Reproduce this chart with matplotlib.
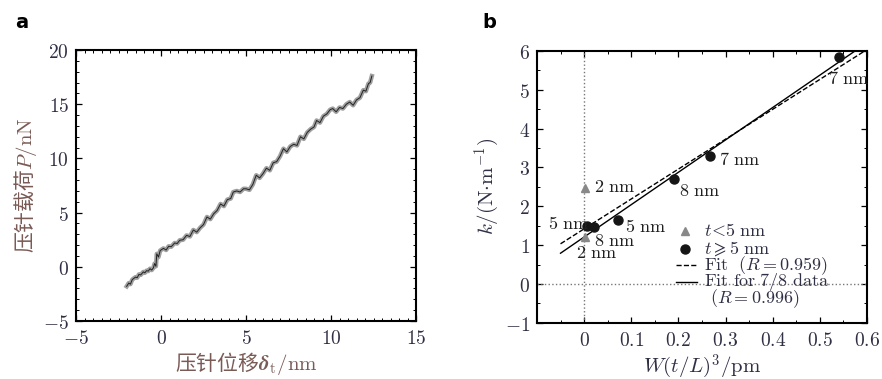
import numpy as np
import matplotlib
matplotlib.use('Agg')
import matplotlib.pyplot as plt
from matplotlib.ticker import MultipleLocator, FuncFormatter

plt.rcParams['font.family'] = ['Noto Sans CJK SC', 'DejaVu Sans']
plt.rcParams['mathtext.fontset'] = 'cm'

# ---- panel a: indentation load vs displacement ----
disp_a = [-2.02, -1.9, -1.8, -1.7, -1.63, -1.5, -1.4, -1.3, -1.2, -1.04, -0.95, -0.85,
          -0.75, -0.65, -0.55, -0.45, -0.38, -0.3, -0.25, -0.15, -0.05, 0.14, 0.3, 0.45,
          0.6, 0.8, 0.95, 1.1, 1.3, 1.5, 1.7, 1.9, 2.1, 2.3, 2.5, 2.7, 2.9, 3.1, 3.3,
          3.5, 3.7, 3.9, 4.1, 4.25, 4.45, 4.65, 4.85, 5.0, 5.2, 5.4, 5.6, 5.8, 6.0,
          6.2, 6.4, 6.6, 6.8, 7.0, 7.2, 7.4, 7.6, 7.8, 8.0, 8.2, 8.4, 8.6, 8.8, 9.0,
          9.15, 9.35, 9.55, 9.75, 9.95, 10.1, 10.3, 10.5, 10.7, 10.9, 11.1, 11.3,
          11.5, 11.7, 11.9, 12.05, 12.2, 12.3, 12.4]
load_a = [-1.8, -1.5, -1.6, -1.2, -1.1, -0.95, -1.0, -0.7, -0.75, -0.47, -0.55, -0.35,
          -0.4, -0.17, -0.3, -0.1, 0.3, 0.05, 1.2, 0.9, 1.5, 1.7, 1.55, 1.9,
          1.85, 2.2, 2.15, 2.45, 2.5, 2.9, 2.8, 3.4, 3.2, 3.6, 3.9, 4.6, 4.4, 4.9, 5.2,
          5.8, 5.6, 6.2, 6.3, 6.9, 7.0, 6.9, 7.2, 7.2, 7.1, 7.6, 8.45, 8.2, 8.6,
          9.1, 8.9, 9.6, 9.7, 10.2, 10.9, 10.6, 11.1, 11.3, 11.2, 12.0, 11.8, 12.4, 12.7, 12.9,
          13.5, 13.3, 13.9, 14.1, 14.5, 14.6, 14.3, 14.7, 14.6, 15.0, 15.2, 14.9,
          15.4, 15.6, 16.3, 16.2, 16.9, 17.0, 17.6]

# ---- panel b: spring constant vs W(t/L)^3 ----
thin_x = [0.002, 0.002]
thin_k = [2.46, 1.2]
thick_x = [0.007, 0.022, 0.072, 0.19, 0.268, 0.541]
thick_k = [1.49, 1.47, 1.64, 2.70, 3.29, 5.84]
point_labels = ['2 nm', '2 nm', '5 nm', '8 nm', '5 nm', '8 nm', '7 nm', '7 nm']
label_xy = [(0.02, 2.5), (-0.018, 0.8), (-0.076, 1.55), (0.02, 1.12),
            (0.086, 1.47), (0.202, 2.4), (0.286, 3.18), (0.518, 5.27)]
fit_all = (7.69, 1.42)      # slope, intercept
fit_78 = (8.33, 1.21)
fit_range_all = (-0.05, 0.6)
fit_range_78 = (-0.05, 0.574)
legend_labels = [r'$t\!<\!5\ \mathrm{nm}$', r'$t\geqslant 5\ \mathrm{nm}$',
                 r'$\mathrm{Fit}\ \ (R=0.959)$', r'$\mathrm{Fit\ for\ 7/8\ data}$',
                 r'$(R=0.996)$']

tick_color = '#303045'
label_color = '#7a5a55'

fig = plt.figure(figsize=(8.82, 3.79), dpi=100, facecolor='white')
ax1 = fig.add_axes([0.0862, 0.153, 0.3855, 0.715])
ax2 = fig.add_axes([0.6088, 0.148, 0.3741, 0.7177])

math_fmt = FuncFormatter(lambda v, pos: '$%s$' % ('%g' % v if abs(v) > 1e-9 else '0'))

def style_axes(ax):
    ax.xaxis.set_major_formatter(math_fmt)
    ax.yaxis.set_major_formatter(math_fmt)
    ax.tick_params(which='both', direction='in', top=True, right=True,
                   labelsize=14, colors='black', labelcolor=tick_color, pad=5)
    ax.tick_params(which='major', length=4, width=0.9)
    ax.tick_params(which='minor', length=2, width=0.7)
    for sp in ax.spines.values():
        sp.set_linewidth(1.5)

# panel a
ax1.plot(disp_a, load_a, color='#777777', lw=3.2, alpha=0.7)
ax1.plot(disp_a, load_a, color='#222222', lw=0.7)
ax1.set_xlim(-5, 15)
ax1.set_ylim(-5, 20)
ax1.xaxis.set_major_locator(MultipleLocator(5))
ax1.xaxis.set_minor_locator(MultipleLocator(0.5))
ax1.yaxis.set_major_locator(MultipleLocator(5))
ax1.yaxis.set_minor_locator(MultipleLocator(1))
style_axes(ax1)
ax1.set_xlabel(r'压针位移$\boldsymbol{\delta}_{\rm t}/\mathrm{nm}$', fontsize=15,
               color=label_color, labelpad=1)
ax1.set_ylabel(r'压针载荷$P/\mathrm{nN}$', fontsize=15, color=label_color, labelpad=3)

# panel b
ax2.axvline(0, color='#777777', ls=':', lw=1)
ax2.axhline(0, color='#777777', ls=':', lw=1)
xs = np.array(fit_range_all)
ax2.plot(xs, fit_all[0] * xs + fit_all[1], color='black', ls='--', lw=1.0)
xs = np.array(fit_range_78)
ax2.plot(xs, fit_78[0] * xs + fit_78[1], color='black', ls='-', lw=1.0)
ax2.plot(thin_x, thin_k, ls='none', marker='^', ms=6, color='#888888')
ax2.plot(thick_x, thick_k, ls='none', marker='o', ms=6.5, color='#151515')
for txt, (lx, ly) in zip(point_labels, label_xy):
    ax2.text(lx, ly, r'$\mathrm{%s}$' % txt.replace(' ', r'\ '), fontsize=13,
             color='#202020', va='center', ha='left')
ax2.set_xlim(-0.1, 0.6)
ax2.set_ylim(-1, 6)
ax2.xaxis.set_major_locator(MultipleLocator(0.1))
ax2.xaxis.set_minor_locator(MultipleLocator(0.05))
ax2.yaxis.set_major_locator(MultipleLocator(1))
ax2.yaxis.set_minor_locator(MultipleLocator(0.5))
style_axes(ax2)
ax2.set_xticks([0, 0.1, 0.2, 0.3, 0.4, 0.5, 0.6])
ax2.set_xlabel(r'$W(t/L)^3/\mathrm{pm}$', fontsize=15, color=tick_color, labelpad=1)
ax2.set_ylabel(r'$k/(\mathrm{N{\cdot}m^{-1}})$', fontsize=15, color=tick_color, labelpad=3)

# hand-placed legend rows (data coordinates)
row_y = [1.37, 0.91, 0.48, 0.05, -0.38]
ax2.plot([0.215], [row_y[0]], ls='none', marker='^', ms=6, color='#888888')
ax2.plot([0.215], [row_y[1]], ls='none', marker='o', ms=6.5, color='#151515')
ax2.plot([0.194, 0.24], [row_y[2]] * 2, ls='--', lw=1.0, color='black')
ax2.plot([0.194, 0.24], [row_y[3]] * 2, ls='-', lw=1.0, color='black')
for lab, ly, lx in zip(legend_labels, row_y, [0.254, 0.254, 0.254, 0.254, 0.268]):
    ax2.text(lx, ly, lab, fontsize=13, color=tick_color, va='center', ha='left')

fig.text(0.017, 0.94, 'a', fontsize=14, fontweight='bold', family='DejaVu Sans', va='center')
fig.text(0.547, 0.94, 'b', fontsize=14, fontweight='bold', family='DejaVu Sans', va='center')

fig.savefig('out.png', dpi=100, facecolor='white')
